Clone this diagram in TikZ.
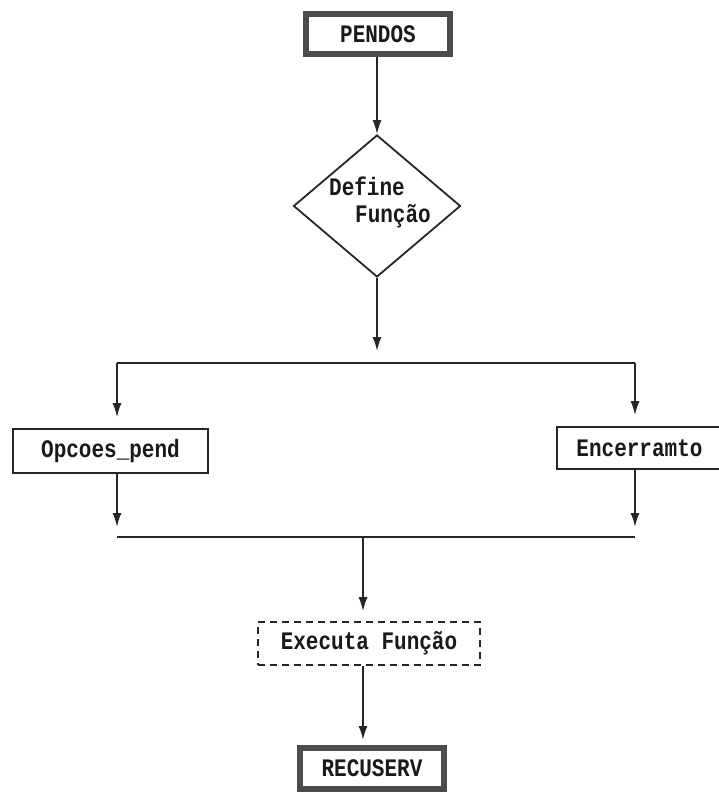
\documentclass[tikz,border=0pt]{standalone}
\usepackage{fontspec}
\setmonofont{Liberation Mono}
\usetikzlibrary{arrows.meta,shapes.geometric}
\newcommand\stretchtxt[1]{\scalebox{1}[1.2]{#1}}
\begin{document}
\begin{tikzpicture}[x=1pt,y=-1pt,
  txt/.style={font=\ttfamily\bfseries\fontsize{21}{19}\selectfont, text=black!90},
  thickbox/.style={txt, draw=black!70, line width=6pt, fill=white, minimum width=144pt, minimum height=40pt, inner sep=0pt},
  plainbox/.style={txt, draw=black!85, line width=1.6pt, inner sep=0pt},
  dashbox/.style={plainbox, dash pattern=on 7pt off 5pt},
  decision/.style={draw=black!85, line width=1.8pt, shape=diamond, minimum width=167pt, minimum height=142pt, inner sep=0pt},
  conn/.style={draw=black!85, line width=1.7pt},
  arr/.style={conn, -{Latex[length=14pt,width=9pt]}}]
\useasboundingbox (0,0) rectangle (718,797);
% nodes
\node[thickbox] (pendos) at (378,34) {\stretchtxt{PENDOS}};
\node[decision] (def) at (377,206) {};
\node[txt, inner sep=0pt] (deftxt1) at (367,186) {\stretchtxt{Define}};
\node[txt, inner sep=0pt] (deftxt2) at (393,216) {\stretchtxt{Função}};
\node[plainbox, minimum width=195pt, minimum height=44pt] (opc) at (110.5,451) {\stretchtxt{Opcoes\_pend}};
\node[plainbox, minimum width=165pt, minimum height=42pt] (enc) at (639.5,448) {\stretchtxt{Encerramto}};
\node[dashbox, minimum width=222pt, minimum height=43pt] (exe) at (369,643.5) {\stretchtxt{Executa Função}};
\node[thickbox, minimum height=41pt] (rec) at (372,768.5) {\stretchtxt{RECUSERV}};
% coordinates
\coordinate (t1) at (377,351);
\coordinate (busL) at (117,363);
\coordinate (busR) at (635,363);
\coordinate (botL) at (117,537);
\coordinate (botR) at (635,537);
\coordinate (botC) at (363,537);
% connectors
\draw[arr] (pendos.south -| def.north) -- (def.north);
\draw[arr] (def.south) -- (t1);
\draw[conn] (busL) -- (busR);
\draw[arr, shorten >=11pt] (busL) -- (opc.north -| busL);
\draw[arr, shorten >=11pt] (busR) -- (enc.north -| busR);
\draw[arr, shorten >=10pt] (opc.south -| busL) -- (botL);
\draw[arr, shorten >=10pt] (enc.south -| botR) -- (botR);
\draw[conn] (botL) -- (botR);
\draw[arr, shorten >=10pt] (botC) -- (exe.north -| botC);
\draw[arr, shorten >=5pt] (exe.south -| botC) -- (rec.north -| botC);
\end{tikzpicture}
\end{document}
